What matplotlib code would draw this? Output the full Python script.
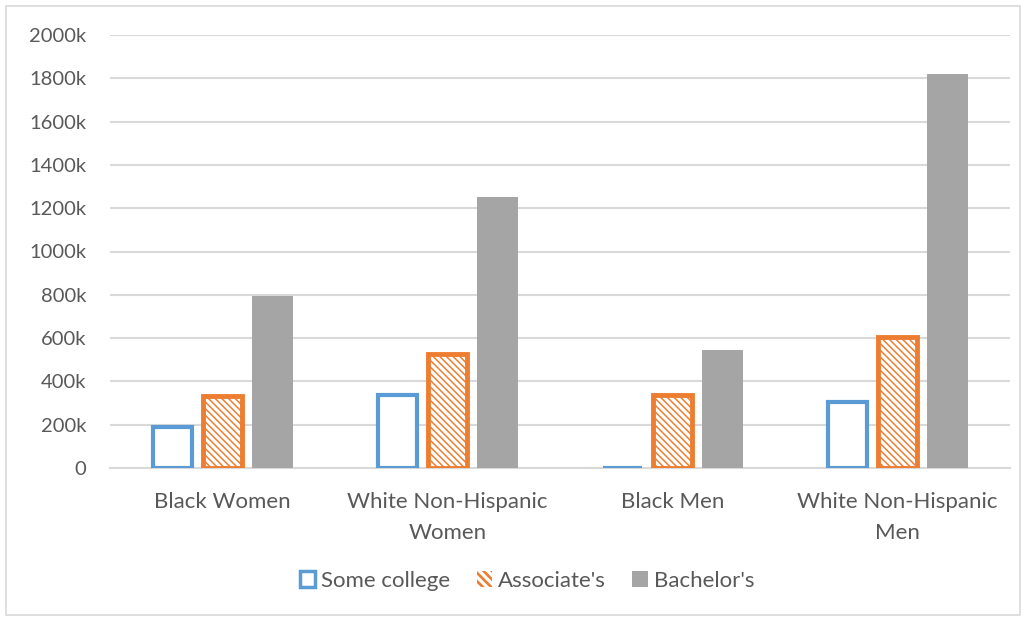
import matplotlib
matplotlib.use("Agg")
import matplotlib.pyplot as plt
from matplotlib.patches import Rectangle, Patch
import numpy as np

categories = ["Black Women", "White Non-Hispanic\nWomen", "Black Men", "White Non-Hispanic\nMen"]
series_names = ["Some college", "Associate's", "Bachelor's"]
some_college = [188, 337, 2, 305]
associates = [333, 525, 337, 605]
bachelors = [795, 1250, 545, 1822]
yticks = [0, 200, 400, 600, 800, 1000, 1200, 1400, 1600, 1800, 2000]
ytick_labels = ["0"] + [f"{v}k" for v in yticks[1:]]

BLUE = "#5b9bd5"
ORANGE = "#ed7d31"
GREY = "#a5a5a5"
TEXT = "#595959"
GRID = "#d9d9d9"

plt.rcParams['font.family'] = ['Lato', 'DejaVu Sans']
plt.rcParams['hatch.linewidth'] = 2.3

fig = plt.figure(figsize=(10.29, 6.2), dpi=100)
ax = fig.add_axes([110/1029, 1 - 468/620, 900/1029, (468 - 35)/620])

x = np.arange(len(categories))
step = 0.222
w = 0.175

# Some college: outlined
ax.bar(x - step, some_college, width=w, facecolor="white", edgecolor=BLUE, linewidth=3, zorder=3)
# Associate's: orange with white diagonal hatch
ax.bar(x, associates, width=w, facecolor=ORANGE, edgecolor="white", hatch="\\\\\\\\\\", linewidth=0, zorder=3)
ax.bar(x, associates, width=w, facecolor="none", edgecolor=ORANGE, linewidth=3.5, zorder=4)
# Bachelor's: solid grey
ax.bar(x + step, bachelors, width=w + 0.01, facecolor=GREY, edgecolor="none", zorder=3)

ax.set_xlim(-0.5, len(categories) - 0.5)
ax.set_ylim(0, 2000)
ax.set_yticks(yticks)
ax.set_yticklabels(ytick_labels)
ax.set_xticks(x)
ax.set_xticklabels(categories, linespacing=1.72)
ax.tick_params(axis='y', length=0, labelsize=14.5, labelcolor=TEXT, pad=17)
ax.tick_params(axis='x', length=0, labelsize=16, labelcolor=TEXT, pad=17)
ax.grid(axis='y', color=GRID, linewidth=1.5, zorder=0)
ax.set_axisbelow(True)
for s in ["top", "right", "left"]:
    ax.spines[s].set_visible(False)
ax.spines["bottom"].set_color(GRID)
ax.spines["bottom"].set_linewidth(1.5)

# legend
h1 = Patch(facecolor="white", edgecolor=BLUE, linewidth=2.5)
h2 = Patch(facecolor=ORANGE, edgecolor="white", hatch="\\\\\\\\", linewidth=0)
h3 = Patch(facecolor=GREY, edgecolor="none")
leg = fig.legend([h1, h2, h3], series_names, loc="center", bbox_to_anchor=(527/1029, 1 - 581/620),
                 ncol=3, frameon=False, fontsize=16, handlelength=0.7, handleheight=0.7,
                 handletextpad=0.25, columnspacing=1.2, labelcolor=TEXT)

# chart border
fig.patches.append(Rectangle((6/1029, 1 - 615/620), 1014/1029, 609/620, transform=fig.transFigure,
                             facecolor="none", edgecolor=GRID, linewidth=1.2))

fig.savefig("out.png", dpi=100)
